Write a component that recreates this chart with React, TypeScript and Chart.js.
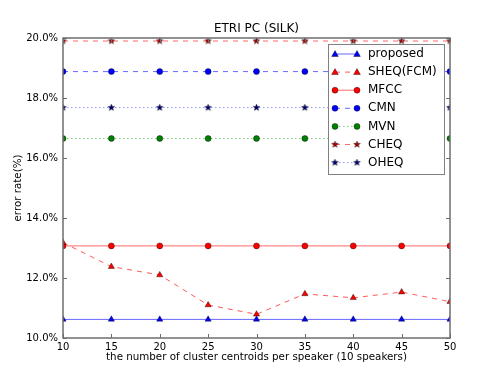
import React, { useEffect, useRef } from "react";
import { Chart, registerables } from "chart.js";
Chart.register(...registerables);

const titleText = "ETRI PC (SILK)";
const xTitle = "the number of cluster centroids per speaker (10 speakers)";
const yTitle = "error rate(%)";

const centroids = [10, 15, 20, 25, 30, 35, 40, 45, 50];
const proposed = [10.62, 10.62, 10.62, 10.62, 10.62, 10.62, 10.62, 10.62, 10.62];
const sheqFcm = [13.18, 12.38, 12.1, 11.1, 10.79, 11.47, 11.34, 11.53, 11.21];
const mfcc = [13.07, 13.07, 13.07, 13.07, 13.07, 13.07, 13.07, 13.07, 13.07];
const cmn = [18.88, 18.88, 18.88, 18.88, 18.88, 18.88, 18.88, 18.88, 18.88];
const mvn = [16.65, 16.65, 16.65, 16.65, 16.65, 16.65, 16.65, 16.65, 16.65];
const cheq = [19.9, 19.9, 19.9, 19.9, 19.9, 19.9, 19.9, 19.9, 19.9];
const oheq = [17.68, 17.68, 17.68, 17.68, 17.68, 17.68, 17.68, 17.68, 17.68];
const yTicks = [10, 12, 14, 16, 18, 20];

const FONT = '"DejaVu Sans", sans-serif';

function makeStar(fill: string, r: number): HTMLCanvasElement {
  const size = Math.ceil(r * 2 + 2);
  const c = document.createElement("canvas");
  c.width = size;
  c.height = size;
  const g = c.getContext("2d")!;
  const cx = size / 2, cy = size / 2;
  g.beginPath();
  for (let i = 0; i < 10; i++) {
    const rad = i % 2 === 0 ? r : r * 0.42;
    const ang = -Math.PI / 2 + (i * Math.PI) / 5;
    const px = cx + rad * Math.cos(ang);
    const py = cy + rad * Math.sin(ang);
    if (i === 0) g.moveTo(px, py);
    else g.lineTo(px, py);
  }
  g.closePath();
  g.fillStyle = fill;
  g.fill();
  g.lineWidth = 0.4;
  g.strokeStyle = "#000";
  g.stroke();
  return c;
}

type Spec = {
  label: string;
  data: number[];
  line: string;
  marker: string;
  style: "triangle" | "circle" | "star";
  dash: number[];
};

const specs: Spec[] = [
  { label: "proposed", data: proposed, line: "rgba(0,0,255,0.6)", marker: "#0000ff", style: "triangle", dash: [] },
  { label: "SHEQ(FCM)", data: sheqFcm, line: "rgba(255,0,0,0.65)", marker: "#ff0000", style: "triangle", dash: [5, 5] },
  { label: "MFCC", data: mfcc, line: "rgba(255,0,0,0.6)", marker: "#ff0000", style: "circle", dash: [] },
  { label: "CMN", data: cmn, line: "rgba(0,0,255,0.6)", marker: "#0000ff", style: "circle", dash: [5, 5] },
  { label: "MVN", data: mvn, line: "rgba(0,160,0,0.5)", marker: "#008000", style: "circle", dash: [1.5, 2.5] },
  { label: "CHEQ", data: cheq, line: "rgba(255,0,0,0.6)", marker: "#aa0000", style: "star", dash: [5, 5] },
  { label: "OHEQ", data: oheq, line: "rgba(40,40,255,0.5)", marker: "#000080", style: "star", dash: [1.5, 2.5] },
];

export default function App() {
  const ref = useRef<HTMLCanvasElement | null>(null);
  useEffect(() => {
    document.body.style.margin = "0";
    const canvas = ref.current;
    if (!canvas) return;
    const stars: Record<string, HTMLCanvasElement> = {};
    specs.forEach((s) => {
      if (s.style === "star") stars[s.label] = makeStar(s.marker, 3.5);
    });

    const drawMarker = (ctx: CanvasRenderingContext2D, s: Spec, x: number, y: number) => {
      ctx.save();
      ctx.setLineDash([]);
      ctx.fillStyle = s.marker;
      ctx.strokeStyle = "#000";
      ctx.lineWidth = 0.4;
      if (s.style === "circle") {
        ctx.beginPath();
        ctx.arc(x, y, 3, 0, Math.PI * 2);
        ctx.fill();
        ctx.stroke();
      } else if (s.style === "triangle") {
        const r = 3.5;
        ctx.beginPath();
        ctx.moveTo(x, y - r);
        ctx.lineTo(x + r * 0.95, y + r * 0.7);
        ctx.lineTo(x - r * 0.95, y + r * 0.7);
        ctx.closePath();
        ctx.fill();
        ctx.stroke();
      } else {
        const img = stars[s.label];
        ctx.drawImage(img, x - img.width / 2, y - img.height / 2);
      }
      ctx.restore();
    };

    const decor = {
      id: "decor",
      afterDraw(chart: any) {
        const { ctx, chartArea: a, scales } = chart;
        const xs = scales.x, ys = scales.y;
        ctx.save();
        ctx.strokeStyle = "#6e6e6e";
        ctx.lineWidth = 1;
        const seg = (x1: number, y1: number, x2: number, y2: number) => {
          ctx.beginPath();
          ctx.moveTo(x1, y1);
          ctx.lineTo(x2, y2);
          ctx.stroke();
        };
        xs.ticks.forEach((t: any) => {
          const px = Math.round(xs.getPixelForValue(t.value)) + 0.5;
          seg(px, a.bottom, px, a.bottom - 4);
          seg(px, a.top, px, a.top + 4);
        });
        ys.ticks.forEach((t: any) => {
          const py = Math.round(ys.getPixelForValue(t.value)) + 0.5;
          seg(a.left, py, a.left + 4, py);
          seg(a.right, py, a.right - 4, py);
        });
        ctx.strokeStyle = "#6e6e6e";
        ctx.lineWidth = 1.5;
        ctx.strokeRect(a.left, a.top, a.right - a.left, a.bottom - a.top);
        ctx.fillStyle = "#000";
        ctx.textAlign = "center";
        ctx.textBaseline = "middle";
        ctx.font = `12px ${FONT}`;
        ctx.fillText(titleText, (a.left + a.right) / 2, a.top - 9);
        ctx.font = `10.3px ${FONT}`;
        ctx.fillText(xTitle, (a.left + a.right) / 2, a.bottom + 19);
        ctx.save();
        ctx.translate(18, (a.top + a.bottom) / 2);
        ctx.rotate(-Math.PI / 2);
        ctx.fillText(yTitle, 0, 0);
        ctx.restore();
        const lw = 116, lh = 130;
        const lx = a.right - 6 - lw, ly = a.top + 6;
        ctx.fillStyle = "#fff";
        ctx.fillRect(lx, ly, lw, lh);
        ctx.strokeStyle = "#808080";
        ctx.lineWidth = 1;
        ctx.strokeRect(lx + 0.5, ly + 0.5, lw, lh);
        ctx.font = `12px ${FONT}`;
        ctx.textAlign = "left";
        specs.forEach((s, i) => {
          const y = ly + 10 + i * 18.1;
          const x1 = lx + 7, x2 = lx + 29;
          ctx.save();
          ctx.strokeStyle = s.line;
          ctx.lineWidth = 1;
          ctx.setLineDash(s.dash);
          ctx.beginPath();
          ctx.moveTo(x1, y);
          ctx.lineTo(x2, y);
          ctx.stroke();
          ctx.restore();
          drawMarker(ctx, s, x1, y);
          drawMarker(ctx, s, x2, y);
          ctx.fillStyle = "#000";
          ctx.fillText(s.label, lx + 40, y);
        });
        ctx.restore();
      },
    };

    const chart = new Chart(canvas, {
      type: "line",
      data: {
        labels: centroids,
        datasets: specs.map((s) => ({
          label: s.label,
          data: s.data.map((v, i) => ({ x: centroids[i], y: v })),
          borderColor: s.line,
          borderWidth: 1,
          borderDash: s.dash,
          tension: 0,
          fill: false,
          pointStyle: s.style === "star" ? stars[s.label] : s.style,
          pointRadius: s.style === "triangle" ? 3.6 : 3,
          pointBackgroundColor: s.marker,
          pointBorderColor: "#000",
          pointBorderWidth: 0.4,
          clip: 0,
        })),
      },
      options: {
        animation: false,
        responsive: false,
        layout: { padding: { top: 38, right: 50, left: 0, bottom: 0 } },
        plugins: { legend: { display: false }, tooltip: { enabled: false }, title: { display: false } },
        scales: {
          x: {
            type: "linear",
            min: 10,
            max: 50,
            ticks: { stepSize: 5, color: "#000", font: { family: FONT, size: 10 }, padding: 3 },
            grid: { display: false, drawTicks: false },
            border: { display: false },
            afterFit: (s: any) => {
              s.height = 37;
            },
          },
          y: {
            type: "linear",
            min: yTicks[0],
            max: yTicks[yTicks.length - 1],
            ticks: {
              stepSize: 2,
              color: "#000",
              font: { family: FONT, size: 10 },
              padding: 5,
              callback: (v: any) => Number(v).toFixed(1) + "%",
            },
            grid: { display: false, drawTicks: false },
            border: { display: false },
            afterFit: (s: any) => {
              s.width = 63;
            },
          },
        },
      },
      plugins: [decor],
    } as any);
    return () => chart.destroy();
  }, []);
  return (
    <div style={{ width: 500, height: 375 }}>
      <canvas ref={ref} width={500} height={375} />
    </div>
  );
}
